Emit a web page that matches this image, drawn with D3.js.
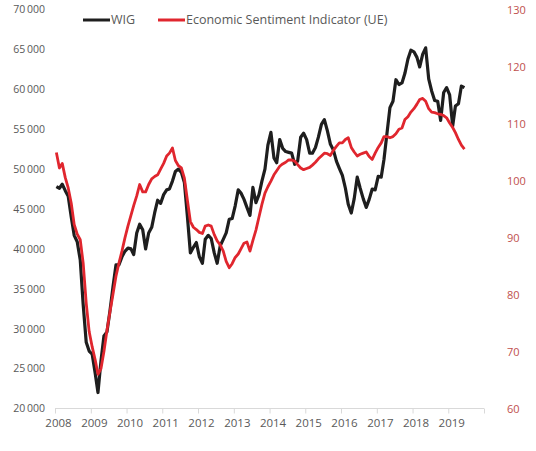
<!DOCTYPE html>
<html>
<head>
<meta charset="utf-8">
<script src="https://cdn.jsdelivr.net/npm/d3@7"></script>
<style>
  body { margin: 0; background: #fff; }
  text { font-family: "Open Sans", "Noto Sans", sans-serif; }
</style>
</head>
<body>
<div id="chart"></div>
<script>
// Monthly readings, Jan 2008 onwards
const startYear = 2008;
const yearTicks = [2008, 2009, 2010, 2011, 2012, 2013, 2014, 2015, 2016, 2017, 2018, 2019];
const leftTicks = [20000, 25000, 30000, 35000, 40000, 45000, 50000, 55000, 60000, 65000, 70000];
const rightTicks = [60, 70, 80, 90, 100, 110, 120, 130];

// WIG index, thousands of points
const wigValues = [
  47.8, 47.6, 48.1, 47.3, 46.6, 44.0, 41.7, 40.9, 38.6, 33.0, 28.3, 27.2,
  26.8, 24.4, 22.0, 26.0, 29.1, 29.6, 32.2, 35.2, 38.0, 38.0, 39.0, 39.7,
  40.1, 40.0, 39.3, 42.0, 43.1, 42.4, 40.0, 42.0, 42.7, 44.5, 46.1, 45.7,
  46.8, 47.4, 47.5, 48.5, 49.7, 50.0, 49.6, 48.3, 44.0, 39.5, 40.2, 40.8,
  39.0, 38.2, 41.2, 41.7, 41.3, 39.5, 38.2, 40.4, 41.2, 42.0, 43.7, 43.8,
  45.4, 47.4, 47.0, 46.2, 45.2, 44.2, 47.7, 45.8, 46.8, 48.5, 50.0, 53.0,
  54.6, 51.4, 50.8, 53.7, 52.6, 52.2, 52.1, 52.0, 50.6, 51.0, 54.0, 54.5,
  53.7, 52.0, 52.0, 52.7, 54.0, 55.6, 56.2, 54.8, 53.1, 52.4, 51.0, 50.1,
  49.2, 47.6, 45.6, 44.5, 46.3, 49.0, 47.6, 46.3, 45.2, 46.2, 47.5, 47.4,
  49.1, 49.0, 51.2, 54.5, 57.7, 58.5, 61.2, 60.6, 60.8, 62.0, 63.8, 64.9,
  64.7, 64.0, 62.8, 64.4, 65.2, 61.3, 59.8, 58.6, 58.5, 56.1, 59.6, 60.2,
  59.3, 55.4, 57.9, 58.2, 60.4, 60.2
];

// Economic Sentiment Indicator (UE)
const esiValues = [
  104.9, 102.2, 103.0, 100.5, 98.7, 96.0, 92.3, 90.6, 89.6, 85.5, 78.5, 73.5,
  70.8, 68.5, 66.0, 67.0, 70.0, 73.7, 76.9, 80.0, 83.2, 85.5, 87.6, 89.9,
  92.0, 93.9, 95.6, 97.3, 99.3, 98.0, 98.0, 99.3, 100.3, 100.7, 101.0, 102.0,
  103.0, 104.3, 104.8, 105.7, 103.5, 102.6, 102.2, 100.4, 96.5, 92.8, 91.8, 91.4,
  90.9, 90.7, 92.0, 92.2, 92.0, 90.5, 89.4, 88.7, 87.6, 85.8, 84.7, 85.4,
  86.5, 87.1, 88.0, 89.0, 89.2, 87.6, 89.5, 91.3, 93.6, 95.8, 97.8, 98.9,
  99.9, 101.0, 101.7, 102.5, 102.9, 103.2, 103.6, 103.6, 103.4, 102.8, 102.2, 101.9,
  102.1, 102.3, 102.7, 103.2, 103.8, 104.3, 104.8, 104.7, 104.4, 105.3, 106.0, 106.6,
  106.6, 107.2, 107.5, 105.8, 105.0, 104.3, 104.6, 104.8, 105.0, 104.2, 103.7, 104.8,
  105.8, 106.6, 107.7, 107.7, 107.5, 107.7, 108.2, 109.0, 109.2, 110.7, 111.2, 112.0,
  112.6, 113.4, 114.2, 114.4, 113.9, 112.6, 112.0, 111.9, 111.7, 111.6, 111.4, 111.0,
  110.1, 109.3, 108.4, 107.2, 106.2, 105.5
];

const wigData = wigValues.map((v, i) => ({ date: new Date(startYear, i, 15), value: v * 1000 }));
const esiData = esiValues.map((v, i) => ({ date: new Date(startYear, i, 15), value: v }));

const W = 536, H = 451;
const plot = { left: 55, right: 484, top: 9.5, bottom: 408.5 };

const svg = d3.select('#chart')
  .append('svg')
  .attr('width', W)
  .attr('height', H);

const x = d3.scaleTime()
  .domain([new Date(2008, 0, 1), new Date(2020, 0, 1)])
  .range([plot.left, plot.right]);

const yLeft = d3.scaleLinear()
  .domain([20000, 70000])
  .range([plot.bottom, plot.top]);

const yRight = d3.scaleLinear()
  .domain([60, 130])
  .range([plot.bottom, plot.top]);

const fmt = v => d3.format(',')(v).replace(',', '\u2009');

// left axis labels
svg.append('g')
  .attr('transform', `translate(${plot.left - 10},0)`)
  .call(d3.axisLeft(yLeft).tickValues(leftTicks).tickSize(0).tickPadding(0).tickFormat(fmt))
  .call(g => g.select('.domain').remove())
  .call(g => g.selectAll('text').attr('fill', '#595959').style('font-size', '10.5px'));

// right axis labels
svg.append('g')
  .attr('transform', `translate(${plot.right + 23},0)`)
  .call(d3.axisRight(yRight).tickValues(rightTicks).tickSize(0).tickPadding(0))
  .call(g => g.select('.domain').remove())
  .call(g => g.selectAll('text').attr('fill', '#c0504d').style('font-size', '11px'));

// bottom axis
const xAxis = svg.append('g')
  .attr('transform', `translate(0,${plot.bottom})`)
  .call(d3.axisBottom(x)
    .tickValues(yearTicks.concat([2020]).map(y => new Date(y, 0, 1)))
    .tickSize(5)
    .tickPadding(5)
    .tickFormat(d => d.getFullYear() === 2020 ? '' : d.getFullYear()));
xAxis.select('.domain').attr('stroke', '#d9d9d9').attr('d', `M${plot.left},0H${plot.right}`);
xAxis.selectAll('.tick line').attr('stroke', '#d9d9d9');
xAxis.selectAll('text')
  .attr('fill', '#595959')
  .attr('dx', 3)
  .style('font-size', '11.5px');

// lines
const lineLeft = d3.line().x(d => x(d.date)).y(d => yLeft(d.value));
const lineRight = d3.line().x(d => x(d.date)).y(d => yRight(d.value));

svg.append('path')
  .datum(wigData)
  .attr('fill', 'none')
  .attr('stroke', '#1e1e1e')
  .attr('stroke-width', 3.2)
  .attr('stroke-linejoin', 'round')
  .attr('d', lineLeft);

svg.append('path')
  .datum(esiData)
  .attr('fill', 'none')
  .attr('stroke', '#e0262e')
  .attr('stroke-width', 2.8)
  .attr('stroke-linejoin', 'round')
  .attr('d', lineRight);

// legend
const legend = svg.append('g').attr('transform', 'translate(83,20)');
const items = [
  { name: 'WIG', color: '#1e1e1e', x: 0 },
  { name: 'Economic Sentiment Indicator (UE)', color: '#e0262e', x: 75 }
];
items.forEach(it => {
  legend.append('line')
    .attr('x1', it.x).attr('x2', it.x + 27)
    .attr('y1', 0).attr('y2', 0)
    .attr('stroke', it.color)
    .attr('stroke-width', 3);
  legend.append('text')
    .attr('x', it.x + 28)
    .attr('y', 0)
    .attr('dy', '0.35em')
    .attr('fill', '#595959')
    .style('font-size', '12.5px')
    .text(it.name);
});
</script>
</body>
</html>
